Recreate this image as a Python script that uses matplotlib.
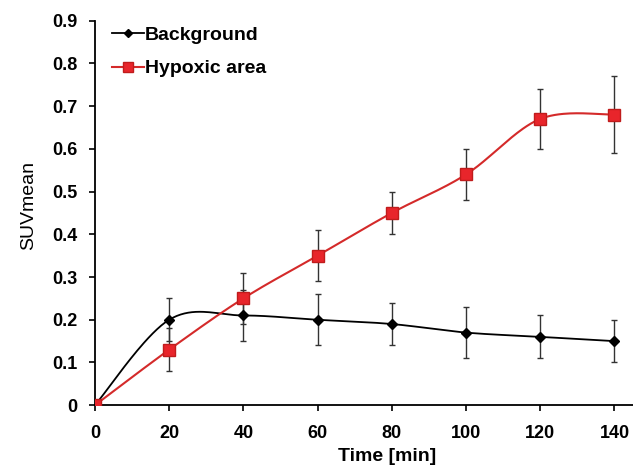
import numpy as np
import matplotlib
matplotlib.use("Agg")
import matplotlib.pyplot as plt

# ==========================
# Data
# ==========================

time_min = [0, 20, 40, 60, 80, 100, 120, 140]

background = [0.0, 0.20, 0.21, 0.20, 0.19, 0.17, 0.16, 0.15]
background_err = [0.0, 0.05, 0.06, 0.06, 0.05, 0.06, 0.05, 0.05]

hypoxic = [0.0, 0.13, 0.25, 0.35, 0.45, 0.54, 0.67, 0.68]
hypoxic_err = [0.0, 0.05, 0.06, 0.06, 0.05, 0.06, 0.07, 0.09]

x_ticks = [0, 20, 40, 60, 80, 100, 120, 140]
y_ticks = [0, 0.1, 0.2, 0.3, 0.4, 0.5, 0.6, 0.7, 0.8, 0.9]


# ==========================
# Smoothed line (Excel-like)
# ==========================

def smooth(x, y, n=40):
    x = np.asarray(x, float)
    y = np.asarray(y, float)
    pts = np.column_stack([x, y])
    out = []
    for i in range(len(pts) - 1):
        p0 = pts[i - 1] if i > 0 else pts[i]
        p1 = pts[i]
        p2 = pts[i + 1]
        p3 = pts[i + 2] if i + 2 < len(pts) else pts[i + 1]
        c1 = p1 + (p2 - p0) / 6.0
        c2 = p2 - (p3 - p1) / 6.0
        t = np.linspace(0, 1, n)[:, None]
        seg = ((1 - t) ** 3) * p1 + 3 * ((1 - t) ** 2) * t * c1 \
            + 3 * (1 - t) * t ** 2 * c2 + t ** 3 * p2
        out.append(seg)
    seg = np.vstack(out)
    return seg[:, 0], seg[:, 1]


plt.rcParams["font.family"] = ["Liberation Sans", "DejaVu Sans"]

fig = plt.figure(figsize=(6.33, 4.69), dpi=100)
ax = fig.add_axes([0.150, 0.136, 0.850, 0.820])

red = "#e8252b"
red_line = "#d42a2a"

# lines
bx, by = smooth(time_min, background)
ax.plot(bx, by, color="black", lw=1.3, zorder=2)
hx, hy = smooth(time_min, hypoxic)
ax.plot(hx, hy, color=red_line, lw=1.5, zorder=2)

# error bars
ax.errorbar(time_min, background, yerr=background_err, fmt="none",
            ecolor="#333333", elinewidth=1.0, capsize=2.3, capthick=1.0, zorder=1)
ax.errorbar(time_min, hypoxic, yerr=hypoxic_err, fmt="none",
            ecolor="#333333", elinewidth=1.0, capsize=2.3, capthick=1.0, zorder=1)

# markers
ax.plot(time_min, background, linestyle="none", marker="D", ms=5.5,
        color="black", zorder=3)
ax.plot(time_min, hypoxic, linestyle="none", marker="s", ms=8.5,
        markerfacecolor=red, markeredgecolor="#c01c1c", zorder=4)

# legend handles
ax.plot([], [], color="black", lw=1.3, marker="D", ms=4.5, label="Background")
ax.plot([], [], color=red_line, lw=1.5, marker="s", ms=7.5,
        markerfacecolor=red, markeredgecolor="#c01c1c", label="Hypoxic area")
handles, labels = ax.get_legend_handles_labels()
ax.legend(handles, labels, loc="upper left", bbox_to_anchor=(0.0, 1.03),
          frameon=False, handlelength=1.6, handletextpad=0.05,
          labelspacing=0.8, prop={"weight": "bold", "size": 14})

ax.set_xlim(0, 145)
ax.set_ylim(0, 0.9)
ax.set_xticks(x_ticks)
ax.set_yticks(y_ticks)
ax.set_yticklabels(["0"] + [f"{v:.1f}" for v in y_ticks[1:]])

for lab in ax.get_xticklabels() + ax.get_yticklabels():
    lab.set_fontweight("bold")
    lab.set_fontsize(13)

ax.spines["top"].set_visible(False)
ax.spines["right"].set_visible(False)
ax.spines["left"].set_linewidth(1.3)
ax.spines["bottom"].set_linewidth(1.3)
ax.tick_params(direction="out", length=4.5, width=1.2)
ax.tick_params(axis="x", pad=10)
ax.tick_params(axis="y", pad=8)

ax.set_xlabel("Time [min]", fontsize=14, fontweight="bold")
ax.xaxis.set_label_coords(0.543, -0.11)
ax.set_ylabel("SUVmean", fontsize=14)
ax.yaxis.set_label_coords(-0.108, 0.52)

fig.savefig("out.png", dpi=100)
